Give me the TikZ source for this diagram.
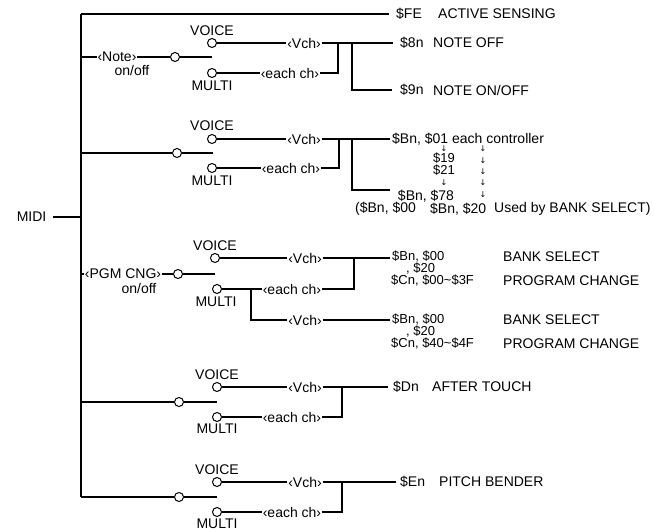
\documentclass[tikz,border=0pt]{standalone}
\usepackage{fontspec}
\setmainfont{Liberation Sans}
\newfontfamily\symf{DejaVu Sans}
\begin{document}
\begin{tikzpicture}[x=1pt,y=-1pt,
  lbl/.style={font=\fontsize{14}{16}\selectfont, inner sep=0.6pt},
  tag/.style={lbl, anchor=west, inner sep=0pt},
  stk/.style={font=\fontsize{13}{14}\selectfont, anchor=west, inner sep=0pt},
  num/.style={font=\fontsize{13}{14}\selectfont, inner sep=0pt},
  sw/.style={circle, draw, fill=white, minimum size=9pt, inner sep=0pt, line width=1pt},
  dn/.style={font=\symf\fontsize{8}{9}\selectfont, inner sep=0pt},
  ln/.style={line width=1.1pt},
  bold/.style={line width=1.6pt}]
\useasboundingbox (0,0) rectangle (654,532);

% bus
\coordinate (btop) at (81,14);
\coordinate (bbot) at (81,497);
\coordinate (b1) at (81,57);
\coordinate (b2) at (81,153);
\coordinate (bm) at (81,217);
\coordinate (b3) at (81,274);
\coordinate (b4) at (81,402);
\node[lbl, anchor=west] (midi) at (16,217) {MIDI};
\draw[ln] ([xshift=6pt]midi.east) -- (bm);
\draw[ln] (btop) -- (bbot);

% active sensing
\node[tag] (fe) at (396,14) {\$FE};
\node[tag] (fet) at (438,14) {ACTIVE SENSING};
\draw[ln] (btop) -- ([xshift=-7pt]fe.west);

% ---------- Note on/off ----------
\node[lbl] (note) at (117,57) {‹Note›};
\node[lbl, inner sep=0pt] (noteo) at (132,70) {on/off};
\node[sw] (s1) at (175,57) {};
\coordinate (s1e) at (212,57);
\draw[ln] (b1) -- (note.west);
\draw[ln] (note.east) -- (s1) -- (s1e);
\node[lbl] (vl1) at (212,31) {VOICE};
\node[sw] (v1) at (212,43) {};
\node[sw] (m1) at (212,73) {};
\node[lbl] (ml1) at (212,86) {MULTI};
\node[lbl] (vc1) at (304,43) {‹Vch›};
\node[lbl] (ec1) at (290,73) {‹each ch›};
\coordinate (j1a) at (338,43);
\coordinate (j1b) at (352,43);
\coordinate (j1c) at (338,73);
\coordinate (j1d) at (352,90);
\node[tag] (n8) at (400,43) {\$8n};
\node[tag] (n8t) at (433,43) {NOTE OFF};
\node[tag] (n9) at (400,90) {\$9n};
\node[tag] (n9t) at (433,90) {NOTE ON/OFF};
\draw[ln] (v1) -- (vc1);
\draw[ln] (vc1) -- ([xshift=-7pt]n8.west);
\draw[ln] (m1) -- (ec1);
\draw[ln] (ec1) -- (j1c) -- (j1a);
\draw[ln] (j1b) -- (j1d) -- ([xshift=-8pt]n9.west |- j1d);

% ---------- controllers ----------
\node[sw] (s2) at (177,153) {};
\coordinate (s2e) at (213,153);
\draw[ln] (b2) -- (s2) -- (s2e);
\node[lbl] (vl2) at (212,126) {VOICE};
\node[sw] (v2) at (212,139) {};
\node[sw] (m2) at (212,168) {};
\node[lbl] (ml2) at (212,181) {MULTI};
\node[lbl] (vc2) at (304,139) {‹Vch›};
\node[lbl] (ec2) at (291,168) {‹each ch›};
\coordinate (j2a) at (339,139);
\coordinate (j2b) at (352,139);
\coordinate (j2c) at (339,168);
\coordinate (j2d) at (352,190);
\coordinate (j2e) at (390,190);
\node[tag] (bn1) at (392,139) {\$Bn, \$01 each controller};
\draw[ln] (v2) -- (vc2);
\draw[ln] (vc2) -- ([xshift=-2pt]bn1.west);
\draw[ln] (m2) -- (ec2);
\draw[ln] (ec2) -- (j2c) -- (j2a);
\draw[ln] (j2b) -- (j2d) -- (j2e);
\node[dn] (a1) at (444,148.5) {↓};
\node[num] (c19) at (444,158.5) {\$19};
\node[num] (c21) at (444,170.5) {\$21};
\node[dn] (a2) at (444,183) {↓};
\node[lbl, inner sep=0pt] (c78) at (426,196) {\$Bn, \$78};
\node[dn] (r1) at (483,149) {↓};
\node[dn] (r2) at (483,161) {↓};
\node[dn] (r3) at (483,172) {↓};
\node[dn] (r4) at (483,183) {↓};
\node[dn] (r5) at (483,195) {↓};
\node[tag] (used1) at (355,209) {(\$Bn, \$00};
\node[tag] (used2) at (430,209) {\$Bn, \$20};
\node[tag] (used3) at (494,209) {Used by BANK SELECT)};

% ---------- program change ----------
\node[lbl] (pgm) at (123,274) {‹PGM CNG›};
\node[lbl, inner sep=0pt] (pgmo) at (139,288) {on/off};
\node[sw] (s3) at (178,274) {};
\coordinate (s3e) at (215,274);
\draw[ln] (b3) -- (pgm.west);
\draw[ln] (pgm.east) -- (s3) -- (s3e);
\node[lbl] (vl3) at (215,246) {VOICE};
\node[sw] (v3) at (215,258) {};
\node[sw] (m3) at (217,289) {};
\node[lbl] (ml3) at (216,302) {MULTI};
\node[lbl] (vc3) at (305,258) {‹Vch›};
\node[lbl] (ec3) at (292,289) {‹each ch›};
\node[lbl] (vc3b) at (305,320) {‹Vch›};
\coordinate (j3a) at (354,258);
\coordinate (j3b) at (354,289);
\coordinate (j3c) at (251,289);
\coordinate (j3d) at (251,320);
\node[stk] (bs1) at (392,257) {\$Bn, \$00};
\node[tag] (bs1t) at (503,257) {BANK SELECT};
\node[stk] (bs1b) at (406,269) {, \$20};
\node[stk] (pc1) at (391,281) {\$Cn, \$00\char"007E\$3F};
\node[tag] (pc1t) at (503,281) {PROGRAM CHANGE};
\node[stk] (bs2) at (392,320) {\$Bn, \$00};
\node[tag] (bs2t) at (503,320) {BANK SELECT};
\node[stk] (bs2b) at (406,332) {, \$20};
\node[stk] (pc2) at (391,344) {\$Cn, \$40\char"007E\$4F};
\node[tag] (pc2t) at (503,344) {PROGRAM CHANGE};
\draw[ln] (v3) -- (vc3);
\draw[ln] (vc3) -- ([xshift=-2pt]bs1.west |- vc3);
\draw[bold] (m3) -- (ec3);
\draw[ln] (ec3) -- (j3b) -- (j3a);
\draw[ln] (j3c) -- (j3d) -- (vc3b);
\draw[ln] (vc3b) -- ([xshift=-2pt]bs2.west);

% ---------- after touch ----------
\node[sw] (s4) at (179,402) {};
\coordinate (s4e) at (217,402);
\draw[ln] (b4) -- (s4) -- (s4e);
\node[lbl] (vl4) at (217,375) {VOICE};
\node[sw] (v4) at (217,387) {};
\node[sw] (m4) at (217,417) {};
\node[lbl] (ml4) at (217,429) {MULTI};
\node[lbl] (vc4) at (305,387) {‹Vch›};
\node[lbl] (ec4) at (292,417) {‹each ch›};
\coordinate (j4a) at (342,387);
\coordinate (j4b) at (342,417);
\node[tag] (dn) at (393,387) {\$Dn};
\node[tag] (dnt) at (432,387) {AFTER TOUCH};
\draw[ln] (v4) -- (vc4);
\draw[ln] (vc4) -- ([xshift=-5pt]dn.west);
\draw[ln] (m4) -- (ec4);
\draw[ln] (ec4) -- (j4b) -- (j4a);

% ---------- pitch bender ----------
\node[sw] (s5) at (179,497) {};
\coordinate (s5e) at (217,497);
\draw[ln] (bbot) -- (s5) -- (s5e);
\node[lbl] (vl5) at (217,470) {VOICE};
\node[sw] (v5) at (217,482) {};
\node[sw] (m5) at (217,512) {};
\node[lbl] (ml5) at (217,524) {MULTI};
\node[lbl] (vc5) at (305,482) {‹Vch›};
\node[lbl] (ec5) at (292,512) {‹each ch›};
\coordinate (j5a) at (342,482);
\coordinate (j5b) at (342,512);
\node[tag] (en) at (400,482) {\$En};
\node[tag] (ent) at (439,482) {PITCH BENDER};
\draw[ln] (v5) -- (vc5);
\draw[ln] (vc5) -- ([xshift=-4pt]en.west);
\draw[ln] (m5) -- (ec5);
\draw[ln] (ec5) -- (j5b) -- (j5a);
\end{tikzpicture}
\end{document}
